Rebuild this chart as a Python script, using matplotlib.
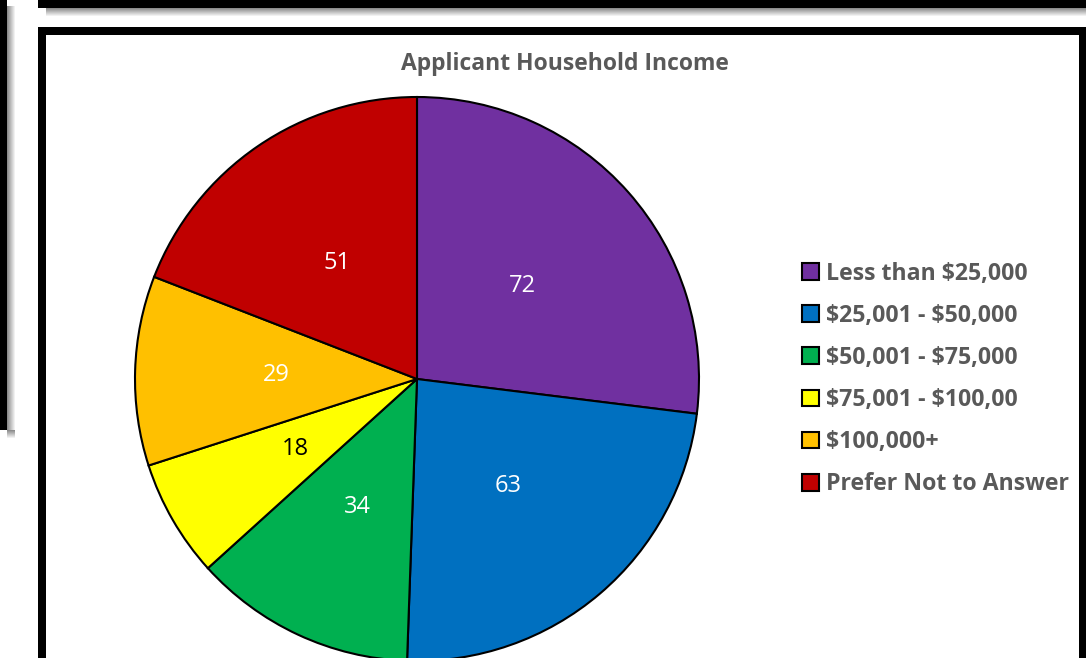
import matplotlib
matplotlib.use("Agg")
import matplotlib.pyplot as plt
from matplotlib.patches import Rectangle

plt.rcParams["text.parse_math"] = False

# data
categories = ["Less than $25,000", "$25,001 - $50,000", "$50,001 - $75,000",
              "$75,001 - $100,00", "$100,000+", "Prefer Not to Answer"]
counts = [72, 63, 34, 18, 29, 51]
colors = ["#7030A0", "#0070C0", "#00B050", "#FFFF00", "#FFC000", "#C00000"]
label_colors = ["white", "white", "white", "black", "white", "white"]

W, H = 1086, 658
fig = plt.figure(figsize=(W / 100, H / 100), dpi=100)
fig.patch.set_facecolor("white")


def box(x, y, w, h, color, z=0):
    # x, y in pixels from top-left corner
    r = Rectangle((x / W, 1 - (y + h) / H), w / W, h / H, transform=fig.transFigure,
                  facecolor=color, edgecolor="none", zorder=z)
    fig.add_artist(r)


def shadow_h(x, y, w, steps=8):
    for i in range(steps):
        g = 0.55 + 0.45 * i / steps
        box(x, y + i, w, 1, (g, g, g))


def shadow_v(x, y, h, steps=8):
    for i in range(steps):
        g = 0.55 + 0.45 * i / steps
        box(x + i, y, 1, h, (g, g, g))


# left panel edge
shadow_v(7, 6, 430)
shadow_h(7, 430, 8)
box(0, 0, 7, 430, "black", 2)

# top panel bottom edge
shadow_h(46, 8, W - 46)
box(38, 0, W - 38, 8, "black", 2)

# main panel
box(38, 27, W - 38, 8, "black", 5)
box(38, 27, 8, H - 27, "black", 5)
box(1079, 27, 7, H - 27, "black", 5)

# pie axes: centre (417, 379) px, radius 282 px
cx, cy, r = 417, 379, 282
ax = fig.add_axes([(cx - r) / W, 1 - (cy + r) / H, 2 * r / W, 2 * r / H])
total = sum(counts)
wedges, _, autotexts = ax.pie(
    counts, colors=colors, startangle=90, counterclock=False,
    autopct=lambda p: f"{p * total / 100:.0f}", pctdistance=0.5,
    wedgeprops=dict(edgecolor="black", linewidth=1.5),
    textprops=dict(fontsize=17, family="Open Sans"),
)
for t, c in zip(autotexts, label_colors):
    t.set_color(c)
ax.set_xlim(-1, 1)
ax.set_ylim(-1, 1)
ax.set_aspect("equal")
ax.axis("off")

fig.text(565 / W, 1 - 64 / H, "Applicant Household Income", ha="center", va="center",
         fontsize=16.5, fontweight="bold", color="#595959", family="Open Sans")

leg = fig.legend(wedges, categories, loc="center left",
                 bbox_to_anchor=(802 / W, 1 - 379 / H), frameon=False,
                 prop=dict(family="Open Sans", weight="bold", size=16.7),
                 labelcolor="#595959", handlelength=0.74, handleheight=0.74,
                 handletextpad=0.3, labelspacing=0.78, borderpad=0,
                 borderaxespad=0)
for h in leg.legend_handles:
    h.set_edgecolor("black")
    h.set_linewidth(1.5)

fig.savefig("out.png", dpi=100)
